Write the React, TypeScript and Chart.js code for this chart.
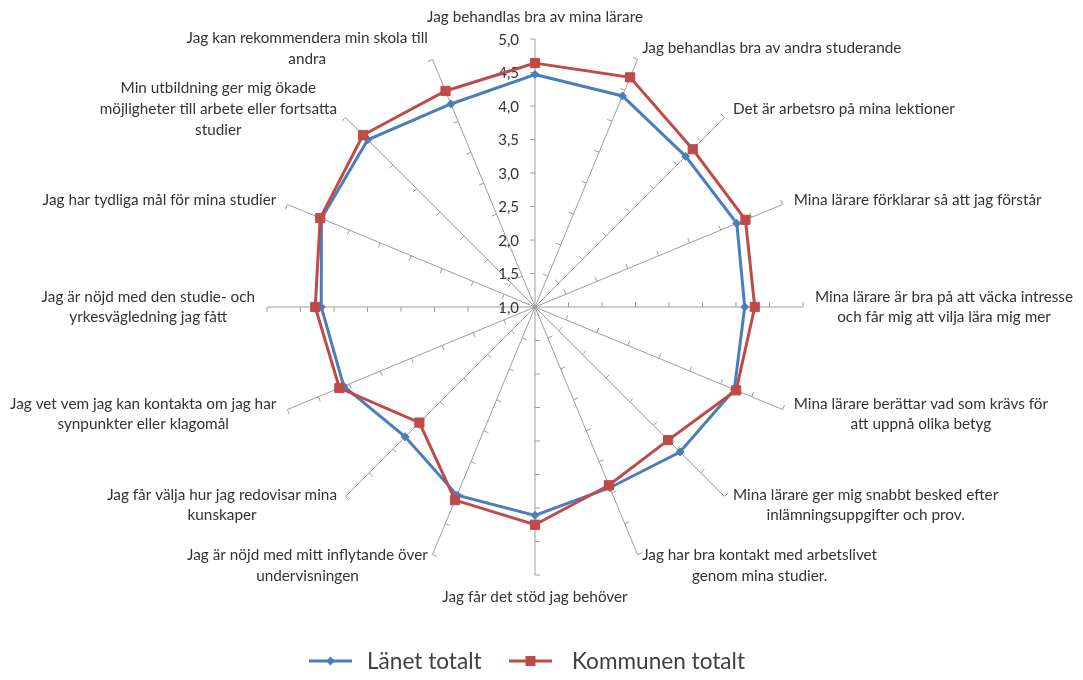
import { useEffect, useRef } from "react";
import { Chart, registerables } from "chart.js";

Chart.register(...registerables);

// ---- Data ----
const categories: string[][] = [
  ["Jag behandlas bra av mina lärare"],
  ["Jag behandlas bra av andra studerande"],
  ["Det är arbetsro på mina lektioner"],
  ["Mina lärare förklarar så att jag förstår"],
  ["Mina lärare är bra på att väcka intresse", "och får mig att vilja lära mig mer"],
  ["Mina lärare berättar vad som krävs för", "att uppnå olika betyg"],
  ["Mina lärare ger mig snabbt besked efter", "inlämningsuppgifter och prov."],
  ["Jag har bra kontakt med arbetslivet", "genom mina studier."],
  ["Jag får det stöd jag behöver"],
  ["Jag är nöjd med mitt inflytande över", "undervisningen"],
  ["Jag får välja hur jag redovisar mina", "kunskaper"],
  ["Jag vet vem jag kan kontakta om jag har", "synpunkter eller klagomål"],
  ["Jag är nöjd med den studie- och", "yrkesvägledning jag fått"],
  ["Jag har tydliga mål för mina studier"],
  ["Min utbildning ger mig ökade", "möjligheter till arbete eller fortsatta", "studier"],
  ["Jag kan rekommendera min skola till", "andra"],
];

const lanetTotalt = [4.47, 4.41, 4.18, 4.26, 4.13, 4.22, 4.06, 3.92, 4.11, 4.04, 3.74, 4.09, 4.19, 4.45, 4.53, 4.28];
const kommunenTotalt = [4.64, 4.71, 4.33, 4.4, 4.28, 4.25, 3.81, 3.88, 4.25, 4.12, 3.44, 4.16, 4.28, 4.47, 4.63, 4.49];

const seriesNames = ["Länet totalt", "Kommunen totalt"];
const tickValues = [1, 1.5, 2, 2.5, 3, 3.5, 4, 4.5, 5];
const tickLabels = ["1,0", "1,5", "2,0", "2,5", "3,0", "3,5", "4,0", "4,5", "5,0"];

// ---- Styles ----
const BLUE = "#4A7EBB";
const RED = "#BE4B48";
const AXIS = "#9C9C9C";
const TEXT = "#333333";
const FONT = "Lato, 'Open Sans', sans-serif";
const LABEL_SIZE = 15.3;
const LINE_H = 20.6;

const decorPlugin = {
  id: "excelRadarDecor",
  beforeDatasetsDraw(chart: any) {
    const scale = chart.scales.r;
    const ctx = chart.ctx as CanvasRenderingContext2D;
    ctx.save();
    // tick marks on every spoke
    ctx.strokeStyle = AXIS;
    ctx.lineWidth = 1;
    const n = categories.length;
    for (let i = 0; i < n; i++) {
      const a = scale.getIndexAngle(i) - Math.PI / 2;
      const dx = Math.cos(a);
      const dy = Math.sin(a);
      const tx = dy;
      const ty = -dx;
      for (const v of tickValues) {
        if (v === tickValues[0]) continue;
        const p = scale.getPointPositionForValue(i, v);
        ctx.beginPath();
        ctx.moveTo(p.x, p.y);
        ctx.lineTo(p.x + tx * 5, p.y + ty * 5);
        ctx.stroke();
      }
    }
    // tick labels along the top spoke
    ctx.fillStyle = TEXT;
    ctx.font = `15px ${FONT}`;
    ctx.textAlign = "right";
    ctx.textBaseline = "middle";
    tickValues.forEach((v, k) => {
      const p = scale.getPointPositionForValue(0, v);
      ctx.fillText(tickLabels[k], p.x - 16, p.y + 1);
    });
    ctx.restore();
  },
  afterDraw(chart: any) {
    const scale = chart.scales.r;
    const ctx = chart.ctx as CanvasRenderingContext2D;
    ctx.save();
    ctx.fillStyle = TEXT;
    ctx.font = `${LABEL_SIZE}px ${FONT}`;
    ctx.textAlign = "center";
    ctx.textBaseline = "middle";
    const g = 12;
    categories.forEach((lines, i) => {
      const p = scale.getPointPosition(i, scale.drawingArea);
      const th = (i * 2 * Math.PI) / categories.length;
      const s = Math.sin(th);
      const c = Math.cos(th);
      const w = Math.max(...lines.map((l) => ctx.measureText(l).width));
      const h = lines.length * LINE_H;
      let cx: number;
      let top: number;
      if (Math.abs(s) < 1e-6) {
        cx = p.x;
        top = c > 0 ? p.y - g - h : p.y + g;
      } else {
        cx = s > 0 ? p.x + g * s + w / 2 : p.x + g * s - w / 2;
        top = p.y - g * c - h / 2;
      }
      lines.forEach((l, k) => {
        ctx.fillText(l, cx, top + LINE_H * (k + 0.5));
      });
    });

    // legend
    const ly = 661;
    const itemX = [309, 509];
    ctx.font = `22.6px ${FONT}`;
    ctx.textAlign = "left";
    const colors = [BLUE, RED];
    seriesNames.forEach((name, k) => {
      const x = itemX[k];
      const col = colors[k];
      ctx.strokeStyle = col;
      ctx.lineWidth = 3;
      ctx.beginPath();
      ctx.moveTo(x, ly);
      ctx.lineTo(x + 43, ly);
      ctx.stroke();
      ctx.fillStyle = col;
      const mx = x + 21.5;
      if (k === 0) {
        ctx.beginPath();
        ctx.moveTo(mx, ly - 4.5);
        ctx.lineTo(mx + 4.5, ly);
        ctx.lineTo(mx, ly + 4.5);
        ctx.lineTo(mx - 4.5, ly);
        ctx.closePath();
        ctx.fill();
      } else {
        ctx.fillRect(mx - 5, ly - 5, 10, 10);
      }
      ctx.fillStyle = "#404040";
      ctx.fillText(name, x + (k === 0 ? 58 : 63), ly + 1);
    });
    ctx.restore();
  },
};

export default function App() {
  const canvasRef = useRef<HTMLCanvasElement | null>(null);

  useEffect(() => {
    const canvas = canvasRef.current;
    if (!canvas) return;
    const chart = new Chart(canvas, {
      type: "radar",
      data: {
        labels: categories,
        datasets: [
          {
            label: seriesNames[0],
            data: lanetTotalt,
            borderColor: BLUE,
            backgroundColor: BLUE,
            pointBackgroundColor: BLUE,
            pointBorderColor: BLUE,
            pointStyle: "rectRot",
            pointRadius: 4,
            pointBorderWidth: 1,
            borderWidth: 3,
            fill: false,
            order: 2,
          },
          {
            label: seriesNames[1],
            data: kommunenTotalt,
            borderColor: RED,
            backgroundColor: RED,
            pointBackgroundColor: RED,
            pointBorderColor: RED,
            pointStyle: "rect",
            pointRadius: 6.5,
            pointBorderWidth: 1,
            borderWidth: 3,
            fill: false,
            order: 1,
          },
        ],
      },
      options: {
        animation: false,
        responsive: true,
        maintainAspectRatio: false,
        layout: { padding: { top: 39, bottom: 105, left: 267, right: 280 } },
        elements: { line: { tension: 0 } },
        plugins: {
          legend: { display: false },
          tooltip: { enabled: false },
          title: { display: false },
        },
        scales: {
          r: {
            min: 1,
            max: 5,
            beginAtZero: false,
            startAngle: 0,
            ticks: { display: false, stepSize: 0.5 },
            grid: { display: false },
            angleLines: { display: true, color: AXIS, lineWidth: 1 },
            pointLabels: { display: false },
          },
        },
      },
      plugins: [decorPlugin],
    });
    return () => chart.destroy();
  }, []);

  return (
    <div
      style={{
        position: "absolute",
        left: 0,
        top: 0,
        width: 1083,
        height: 680,
        background: "#ffffff",
      }}
    >
      <canvas ref={canvasRef} style={{ display: "block" }} />
    </div>
  );
}
